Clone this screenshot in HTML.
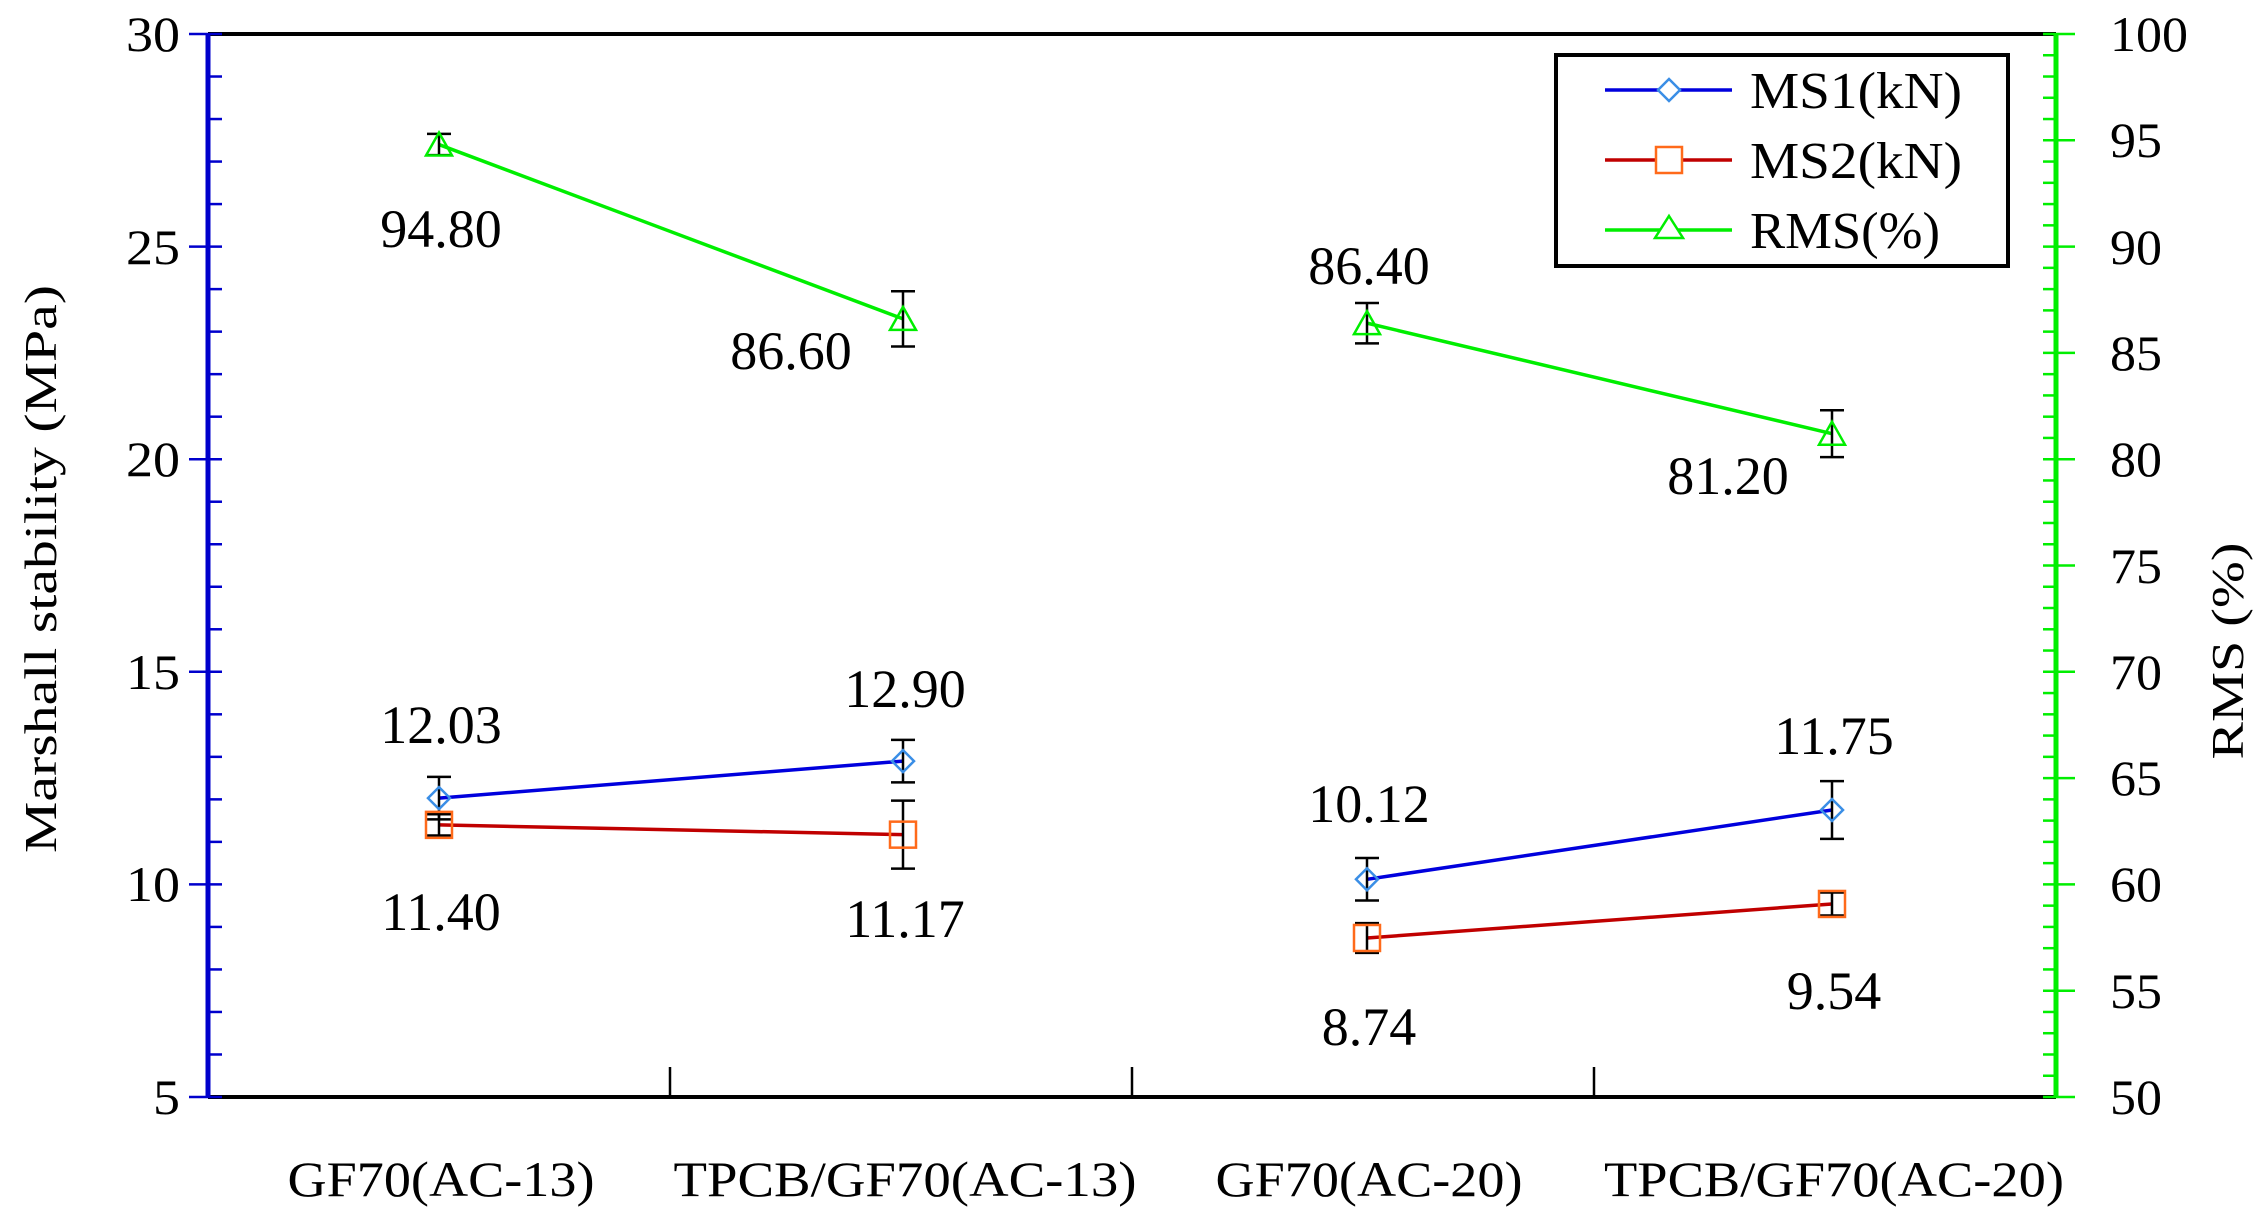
<!DOCTYPE html>
<html><head><meta charset="utf-8"><style>
html,body{margin:0;padding:0;background:#fff;}
svg{display:block;}
text{font-family:"Liberation Serif",serif;fill:#000;}
</style></head><body>
<svg width="2256" height="1219" viewBox="0 0 2256 1219" xmlns="http://www.w3.org/2000/svg">
<line x1="208" y1="34" x2="2056" y2="34" stroke="#000" stroke-width="4"/>
<line x1="208" y1="1097" x2="2056" y2="1097" stroke="#000" stroke-width="4"/>
<line x1="208" y1="34" x2="208" y2="1097" stroke="#0000cc" stroke-width="5"/>
<g stroke="#0000cc" stroke-width="2.5" id="lt"></g>
<line x1="2056" y1="34" x2="2056" y2="1097" stroke="#00ee00" stroke-width="5"/>
<g stroke="#00ee00" stroke-width="2.5" id="rt"></g>
<g stroke="#000" stroke-width="2.5">
<line x1="670" y1="1097" x2="670" y2="1067"/>
<line x1="1132" y1="1097" x2="1132" y2="1067"/>
<line x1="1594" y1="1097" x2="1594" y2="1067"/>
</g>
<g id="series"></g>
<g font-size="50" text-anchor="end">
<text x="180" y="51" textLength="54" lengthAdjust="spacingAndGlyphs">30</text>
<text x="180" y="264" textLength="54" lengthAdjust="spacingAndGlyphs">25</text>
<text x="180" y="476" textLength="54" lengthAdjust="spacingAndGlyphs">20</text>
<text x="180" y="689" textLength="54" lengthAdjust="spacingAndGlyphs">15</text>
<text x="180" y="901" textLength="54" lengthAdjust="spacingAndGlyphs">10</text>
<text x="180" y="1114" textLength="27" lengthAdjust="spacingAndGlyphs">5</text>
</g>
<g font-size="50" text-anchor="start">
<text x="2110" y="51" textLength="78" lengthAdjust="spacingAndGlyphs">100</text>
<text x="2110" y="157" textLength="52" lengthAdjust="spacingAndGlyphs">95</text>
<text x="2110" y="264" textLength="52" lengthAdjust="spacingAndGlyphs">90</text>
<text x="2110" y="370" textLength="52" lengthAdjust="spacingAndGlyphs">85</text>
<text x="2110" y="476" textLength="52" lengthAdjust="spacingAndGlyphs">80</text>
<text x="2110" y="583" textLength="52" lengthAdjust="spacingAndGlyphs">75</text>
<text x="2110" y="689" textLength="52" lengthAdjust="spacingAndGlyphs">70</text>
<text x="2110" y="795" textLength="52" lengthAdjust="spacingAndGlyphs">65</text>
<text x="2110" y="901" textLength="52" lengthAdjust="spacingAndGlyphs">60</text>
<text x="2110" y="1008" textLength="52" lengthAdjust="spacingAndGlyphs">55</text>
<text x="2110" y="1114" textLength="52" lengthAdjust="spacingAndGlyphs">50</text>
</g>
<text font-size="46" text-anchor="middle" transform="translate(56,569) rotate(-90)" textLength="568" lengthAdjust="spacingAndGlyphs">Marshall stability (MPa)</text>
<text font-size="46" text-anchor="middle" transform="translate(2243,651) rotate(-90)" textLength="217" lengthAdjust="spacingAndGlyphs">RMS (%)</text>
<g font-size="50" text-anchor="middle">
<text x="441" y="1196" textLength="307" lengthAdjust="spacingAndGlyphs">GF70(AC-13)</text>
<text x="905" y="1196" textLength="463" lengthAdjust="spacingAndGlyphs">TPCB/GF70(AC-13)</text>
<text x="1369" y="1196" textLength="307" lengthAdjust="spacingAndGlyphs">GF70(AC-20)</text>
<text x="1834" y="1196" textLength="460" lengthAdjust="spacingAndGlyphs">TPCB/GF70(AC-20)</text>
</g>
<g font-size="54" text-anchor="middle">
<text x="441" y="247">94.80</text>
<text x="791" y="369">86.60</text>
<text x="1369" y="284">86.40</text>
<text x="1728" y="494">81.20</text>
<text x="441" y="743">12.03</text>
<text x="905" y="707">12.90</text>
<text x="1369" y="822">10.12</text>
<text x="1834" y="754">11.75</text>
<text x="441" y="930">11.40</text>
<text x="905" y="937">11.17</text>
<text x="1369" y="1045">8.74</text>
<text x="1834" y="1009">9.54</text>
</g>
<rect x="1556" y="55" width="452" height="211" fill="#fff" stroke="#000" stroke-width="4"/>
<line x1="1605" y1="90" x2="1732" y2="90" stroke="#0000dd" stroke-width="3.5"/>
<polygon points="1669,79 1680,90 1669,101 1658,90" fill="#fff" stroke="#3a8ee6" stroke-width="2.5"/>
<line x1="1605" y1="160" x2="1732" y2="160" stroke="#c00000" stroke-width="3.5"/>
<rect x="1656" y="147" width="26" height="26" fill="#fff" stroke="#ff6a1a" stroke-width="2.5"/>
<line x1="1605" y1="230" x2="1732" y2="230" stroke="#00ee00" stroke-width="3.5"/>
<polygon points="1669,216 1683,238 1655,238" fill="#fff" stroke="#00ee00" stroke-width="2.5"/>
<g font-size="52">
<text x="1750" y="108" textLength="212" lengthAdjust="spacingAndGlyphs">MS1(kN)</text>
<text x="1750" y="178" textLength="212" lengthAdjust="spacingAndGlyphs">MS2(kN)</text>
<text x="1750" y="248" textLength="190" lengthAdjust="spacingAndGlyphs">RMS(%)</text>
</g>
<script>
(function(){
var NS="http://www.w3.org/2000/svg";
function el(p,n,a){var e=document.createElementNS(NS,n);for(var k in a)e.setAttribute(k,a[k]);p.appendChild(e);return e;}
var B=1097,H=1063;
var lt=document.getElementById('lt'),rt=document.getElementById('rt');
for(var i=0;i<=25;i++){var y=B-i*H/25;var maj=i%5==0;el(lt,'line',{x1:maj?189:208,y1:y,x2:222,y2:y});}
for(var i=0;i<=50;i++){var y=B-i*H/50;var maj=i%5==0;el(rt,'line',{x1:2043,y1:y,x2:maj?2075:2056,y2:y});}
var s=document.getElementById('series');
var X=[439,903,1367,1832];
function ym(v){return B-(v-5)*H/25;}
function yr(v){return B-(v-50)*H/50;}
function series(vals,errs,f,color,marker,mcol){
 [[0,1],[2,3]].forEach(function(p){
  el(s,'line',{x1:X[p[0]],y1:f(vals[p[0]]),x2:X[p[1]],y2:f(vals[p[1]]),stroke:color,'stroke-width':3.5});
 });
 vals.forEach(function(v,i){
  var x=X[i],y=f(v),a=f(v+errs[i]),b=f(v-errs[i]);
  el(s,'line',{x1:x,y1:a,x2:x,y2:b,stroke:'#000','stroke-width':2.5});
  el(s,'line',{x1:x-12,y1:a,x2:x+12,y2:a,stroke:'#000','stroke-width':2.5});
  el(s,'line',{x1:x-12,y1:b,x2:x+12,y2:b,stroke:'#000','stroke-width':2.5});
  if(marker=='d')el(s,'polygon',{points:(x)+','+(y-11)+' '+(x+11)+','+y+' '+x+','+(y+11)+' '+(x-11)+','+y,fill:'none',stroke:mcol,'stroke-width':2.5});
  if(marker=='s')el(s,'rect',{x:x-13,y:y-13,width:26,height:26,fill:'none',stroke:mcol,'stroke-width':2.5});
  if(marker=='t')el(s,'polygon',{points:x+','+(y-12)+' '+(x+13)+','+(y+11)+' '+(x-13)+','+(y+11),fill:'none',stroke:mcol,'stroke-width':2.5});
 });
}
series([12.03,12.90,10.12,11.75],[0.5,0.5,0.5,0.68],ym,'#0000dd','d','#3a8ee6');
series([11.40,11.17,8.74,9.54],[0.25,0.8,0.35,0.27],ym,'#c00000','s','#ff6a1a');
series([94.8,86.6,86.4,81.2],[0.5,1.3,0.95,1.1],yr,'#00ee00','t','#00ee00');
})();
</script>
</svg>
</body></html>
